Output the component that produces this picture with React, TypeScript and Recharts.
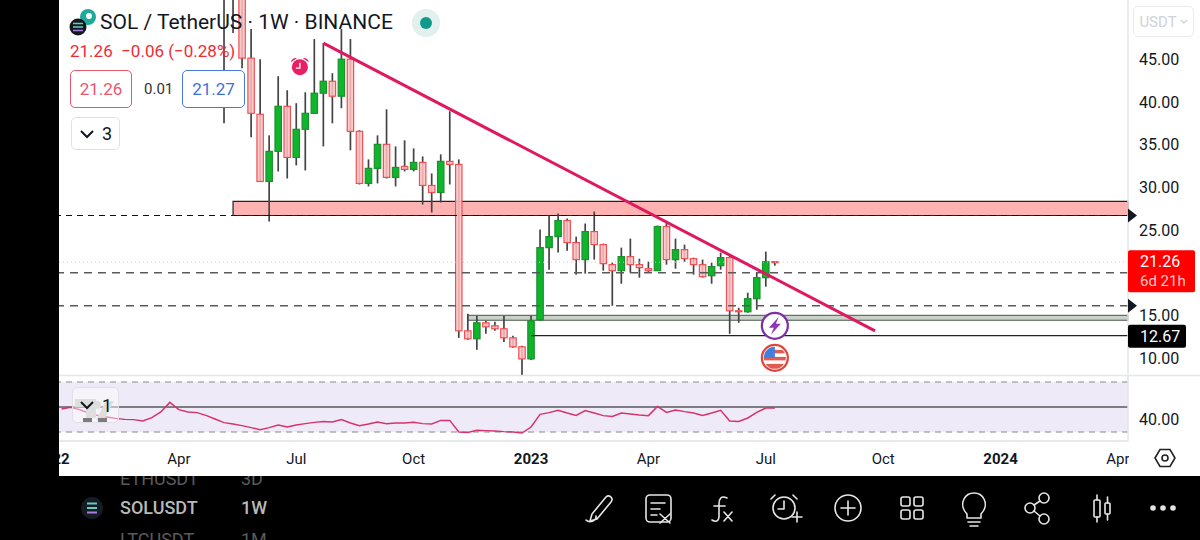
import { ComposedChart, Bar, Line, XAxis, YAxis, ReferenceLine, ReferenceArea, ReferenceDot } from 'recharts'

const FONT = 'Roboto, sans-serif'

// weekly candles, week 0 is the first one on screen
const weeks = Array.from({ length: 62 }, (_, i) => i)
const opens = [54.3, 55, 54.26, 45.12, 38.56, 30.7, 34.22, 39.49, 33.51, 36.8, 38.67, 41.02, 42.42, 40.67, 45, 36.56, 30.47, 32.23, 35.04, 31.17, 32.46, 32.11, 32.93, 30.23, 29.41, 33.05, 32.69, 13.23, 12.3, 14.17, 13.82, 13.47, 12.41, 11.36, 9.95, 14.52, 22.96, 24.25, 26.13, 23.55, 21.56, 24.84, 23.32, 20.97, 20.27, 21.91, 20.97, 20.5, 20.27, 25.43, 21.56, 22.73, 21.67, 20.97, 19.68, 20.85, 21.79, 15.58, 15.46, 16.99, 19.45, 21.32]
const highs = [56, 56, 56, 48.52, 45, 36.09, 43.01, 41.37, 39.85, 41.13, 47.35, 46.88, 43.36, 48.52, 47.35, 36.68, 33.28, 36.09, 39.14, 34.8, 35.51, 34.57, 33.63, 31.64, 33.87, 38.91, 33.28, 15.23, 14.99, 14.41, 14.29, 14.99, 12.65, 11.48, 14.99, 25.07, 26.72, 26.95, 26.36, 24.25, 25.78, 27.18, 23.43, 21.2, 22.96, 24.02, 21.67, 21.32, 25.54, 25.9, 24.02, 23.32, 21.79, 21.56, 21.2, 22.38, 22.14, 15.93, 17.69, 20.03, 22.5, 21.32]
const lows = [37.5, 48.05, 43.95, 35.86, 30.7, 26.01, 31.87, 31.05, 32.58, 31.99, 38.67, 34.8, 37.5, 39.26, 34.34, 30.35, 30.12, 30.47, 31.05, 30.12, 31.87, 31.87, 28, 27.07, 28.24, 30.35, 12.41, 12.18, 11.01, 12.88, 13.23, 11.94, 11.24, 8.08, 9.83, 14.41, 20.38, 22.38, 22.61, 19.8, 19.92, 21.56, 20.27, 16.16, 18.74, 20.03, 19.45, 20.03, 20.27, 20.97, 20.5, 21.32, 19.8, 19.45, 18.74, 20.38, 12.88, 14.17, 15.34, 15.7, 18.39, 20.85]
const closes = [53.1, 54, 45.12, 38.67, 30.7, 34.22, 39.49, 33.51, 36.8, 38.67, 41.02, 42.42, 40.67, 45, 36.56, 30.47, 32.23, 35.04, 31.17, 32.34, 32.11, 32.93, 30.23, 29.41, 33.05, 32.69, 13.23, 12.3, 14.17, 13.7, 13.47, 12.41, 11.36, 9.95, 14.41, 22.96, 24.25, 26.13, 23.55, 21.56, 24.84, 23.32, 21.09, 20.27, 21.91, 20.97, 20.62, 20.27, 25.43, 21.56, 22.73, 21.67, 20.97, 19.56, 20.74, 21.79, 15.58, 15.52, 16.99, 19.45, 21.32, 21.26]

const rsiWeeks = Array.from({ length: 80 }, (_, i) => i - 18)
const rsiValues = [48.4, 49.7, 47.9, 45.2, 43.3, 42, 40.9, 40.1, 39.9, 38.8, 41.5, 46, 53.7, 47.9, 46, 45.5, 43.3, 40.4, 37.5, 36.4, 35.1, 33.5, 31.9, 33.5, 35.6, 34, 35.6, 36.7, 37.7, 38.3, 38, 39.9, 37.2, 35.1, 36.4, 38, 36.7, 37.2, 37.2, 37.7, 36.7, 36.4, 39.3, 39.3, 30, 29.7, 31.3, 31.1, 30.8, 30.3, 30, 29.2, 34, 44.1, 45.5, 47.3, 45.2, 43.3, 47.1, 45.2, 43.1, 42.5, 45.2, 44.4, 43.6, 43.1, 50.5, 45.7, 47.6, 46.3, 45.2, 43.3, 45.2, 47.3, 38.8, 38.5, 41.2, 45.7, 49.2, 49.2]

const tickWeeks = [-19, -5, 8, 21, 34, 47, 60, 73, 86, 99]
const tickLabels = ['2022', 'Apr', 'Jul', 'Oct', '2023', 'Apr', 'Jul', 'Oct', '2024', 'Apr']
const priceTicks = [10, 15, 25, 30, 35, 40, 45]
const rsiTicks = [40]

const candles = weeks.map((week, i) => ({ week, open: opens[i], high: highs[i], low: lows[i], close: closes[i] }))
const rsiData = rsiWeeks.map((week, i) => ({ week, rsi: rsiValues[i] }))

const xDomain: [number, number] = [-24.81, 100.11]
const lastPrice = 21.26

function Candle(props: any) {
  const { x, y, width, height, payload } = props
  const { open, high, low, close } = payload
  const k = height / (high - low)
  const cx = x + width / 2
  const up = close >= open
  const top = y + (high - Math.max(open, close)) * k
  const h = Math.max(Math.abs(open - close) * k, 1)
  return (
    <g>
      <line x1={cx} x2={cx} y1={y} y2={y + height} stroke="#444" strokeWidth={1.7} />
      <rect
        x={cx - 3.2}
        y={top}
        width={6.4}
        height={h}
        fill={up ? '#0fb52b' : '#ffc1c1'}
        fillOpacity={up ? 1 : 0.85}
        stroke={up ? '#1c8f2e' : '#ef4f55'}
        strokeWidth={1.2}
      />
    </g>
  )
}

function TimeTick(props: any) {
  const { x, y, index } = props
  const label = tickLabels[index]
  const bold = label.length === 4
  return (
    <text x={x} y={y + 15} textAnchor="middle" fontFamily={FONT} fontSize={15} fontWeight={bold ? 700 : 400} fill="#131722">
      {label}
    </text>
  )
}

const arrow = (p: any) => <polygon points={`${p.cx},${p.cy - 7} ${p.cx + 9},${p.cy} ${p.cx},${p.cy + 7}`} fill="#131722" />

const lastLabel = (p: any) => (
  <g fontFamily={FONT}>
    <rect x={p.cx} y={p.cy - 12} width={67} height={42} rx={2} fill="#ff0000" />
    <text x={p.cx + 12} y={p.cy + 5} fontSize={16} fill="#fff">21.26</text>
    <text x={p.cx + 12} y={p.cy + 24} fontSize={15} fill="#ffc4c4">6d 21h</text>
  </g>
)

const blackLabel = (p: any) => (
  <g fontFamily={FONT}>
    <rect x={p.cx} y={p.cy - 11} width={58} height={23} rx={2} fill="#000" />
    <text x={p.cx + 12} y={p.cy + 6} fontSize={16} fill="#fff">12.67</text>
  </g>
)

const alarmIcon = (p: any) => (
  <g transform={`translate(${p.cx},${p.cy})`}>
    <path d="M-9,-5 A5,5 0 0 1 -3,-9 Z M9,-5 A5,5 0 0 0 3,-9 Z" fill="#e91e63" />
    <circle r={8} fill="#e91e63" />
    <path d="M0,-4.5 V1 H-4" fill="none" stroke="#fff" strokeWidth={1.4} />
  </g>
)

const boltIcon = (p: any) => (
  <g transform={`translate(${p.cx},${p.cy})`}>
    <circle r={13} fill="#fff" stroke="#7b2fa8" strokeWidth={2.2} />
    <path d="M4,-9 L-6,2 L-1,2 L-4,9 L6,-2 L1,-2 Z" fill="#8e36b5" />
  </g>
)

const flagIcon = (p: any) => (
  <g transform={`translate(${p.cx},${p.cy})`}>
    <clipPath id="flag-clip"><circle r={11} /></clipPath>
    <circle r={13} fill="#fff" stroke="#e0453d" strokeWidth={2.2} />
    <g clipPath="url(#flag-clip)">
      <rect x={-12} y={-8} width={24} height={3.5} fill="#e25b52" />
      <rect x={-12} y={-1} width={24} height={3.5} fill="#e25b52" />
      <rect x={-12} y={6} width={24} height={6} fill="#e25b52" />
      <rect x={-12} y={-12} width={12} height={12} fill="#3f7fe0" />
    </g>
  </g>
)

function PriceChart() {
  return (
    <ComposedChart width={1200} height={376} data={candles} margin={{ top: 0, right: 0, bottom: 0, left: 0 }}>
      <XAxis dataKey="week" type="number" domain={xDomain} hide />
      <YAxis
        orientation="right"
        width={72}
        domain={[7.95, 51.92]}
        allowDataOverflow
        ticks={priceTicks}
        interval={0}
        tickFormatter={(v: number) => v.toFixed(2)}
        tick={{ fill: '#131722', fontSize: 16, fontFamily: FONT }}
        tickLine={false}
        tickMargin={5}
        axisLine={{ stroke: '#e4e6ea', strokeWidth: 1.5 }}
      />
      <ReferenceLine y={21.26} stroke="#f6b8b8" strokeDasharray="1 3" />
      <ReferenceLine y={20.03} stroke="#5a5a5a" strokeWidth={1.6} strokeDasharray="8 6" />
      <ReferenceLine y={16.16} stroke="#5a5a5a" strokeWidth={1.6} strokeDasharray="8 6" />
      <ReferenceArea x1={27} x2={100.11} y1={14.47} y2={15.05} fill="#c9d2c9" fillOpacity={1} stroke="#4a554a" strokeWidth={1} />
      <ReferenceLine segment={[{ x: 34, y: 12.67 }, { x: 100.11, y: 12.67 }]} stroke="#222" strokeWidth={1.3} />
      <ReferenceArea x1={1} x2={100.11} y1={26.72} y2={28.36} fill="#ffb2b2" fillOpacity={1} stroke="#222" strokeWidth={1.2} />
      <ReferenceLine y={26.72} stroke="#111" strokeWidth={1.2} strokeDasharray="6 5" />
      <Bar dataKey={(d: any) => [d.low, d.high]} barSize={7} shape={<Candle />} isAnimationActive={false} />
      <ReferenceLine segment={[{ x: 11, y: 46.88 }, { x: 72.09, y: 13.23 }]} stroke="#e0185f" strokeWidth={3} />
      <ReferenceDot x={8.4} y={44.07} shape={alarmIcon} />
      <ReferenceDot x={61} y={13.82} shape={boltIcon} />
      <ReferenceDot x={61} y={10.07} shape={flagIcon} />
      <ReferenceDot x={100.11} y={26.72} shape={arrow} />
      <ReferenceDot x={100.11} y={20.03} shape={arrow} />
      <ReferenceDot x={100.11} y={16.16} shape={arrow} />
      <ReferenceDot x={100.11} y={lastPrice} shape={lastLabel} />
      <ReferenceDot x={100.11} y={12.67} shape={blackLabel} />
    </ComposedChart>
  )
}

function RsiChart() {
  return (
    <ComposedChart width={1200} height={100} data={rsiData} margin={{ top: 0, right: 0, bottom: 0, left: 0 }}>
      <ReferenceArea x1={-24.81} x2={100.11} y1={30} y2={70} fill="#efeaf8" fillOpacity={1} stroke="none" />
      <XAxis
        dataKey="week"
        type="number"
        domain={xDomain}
        ticks={tickWeeks}
        interval={0}
        height={35}
        tick={<TimeTick />}
        tickLine={false}
        axisLine={{ stroke: '#e0e2e6', strokeWidth: 1.5 }}
      />
      <YAxis
        orientation="right"
        width={72}
        domain={[22.8, 74.8]}
        allowDataOverflow
        ticks={rsiTicks}
        interval={0}
        tickFormatter={(v: number) => v.toFixed(2)}
        tick={{ fill: '#131722', fontSize: 16, fontFamily: FONT }}
        tickLine={false}
        tickMargin={5}
        axisLine={{ stroke: '#e4e6ea', strokeWidth: 1.5 }}
      />
      <ReferenceLine y={70} stroke="#888" strokeDasharray="6 5" />
      <ReferenceLine y={30} stroke="#888" strokeDasharray="6 5" />
      <ReferenceLine y={50} stroke="#111" strokeWidth={1.2} />
      <Line dataKey="rsi" stroke="#d6336c" strokeWidth={1.5} dot={false} isAnimationActive={false} />
    </ComposedChart>
  )
}

const box = (left: number, top: number, width: number, height: number, color: string, bg = 'transparent'): any => ({
  position: 'absolute',
  left,
  top,
  width,
  height,
  boxSizing: 'border-box',
  border: `1.5px solid ${color}`,
  borderRadius: 5,
  background: bg,
  display: 'flex',
  alignItems: 'center',
  justifyContent: 'center',
})

const ICON = { fill: 'none', stroke: '#e6e6e6', strokeWidth: 1.6, strokeLinecap: 'round', strokeLinejoin: 'round' } as any

function Toolbar() {
  return (
    <g {...ICON}>
      <path d="M586,520 C590,524 597,520 596,516 M592,514 L606,497 C609,494 614,498 611,502 L597,519 L590,521 Z" />
      <rect x="646" y="495" width="25" height="27" rx="4" />
      <path d="M651,503 H665 M651,509 H660 M651,515 H657 M660,514 L670,523 M670,514 L660,523" />
      <path d="M727,498 C721,495 719,499 719,504 V516 C719,522 715,522 712,520 M714,506 H725 M724,512 L732,521 M732,512 L724,521" />
      <circle cx="784" cy="508" r="11" />
      <path d="M784,501 V509 H778 M775,495 L771,499 M793,495 L797,499 M792,517 H802 M797,512 V522" />
      <circle cx="848" cy="508" r="13" />
      <path d="M848,501 V515 M841,508 H855" />
      <rect x="901" y="497" width="9" height="9" rx="2" />
      <rect x="914" y="497" width="9" height="9" rx="2" />
      <rect x="901" y="510" width="9" height="9" rx="2" />
      <rect x="914" y="510" width="9" height="9" rx="2" />
      <path d="M967,514 C962,509 962,503 964,499 C968,491 980,491 984,499 C986,503 986,509 981,514 V518 H967 Z M968,522 H980 M970,526 H978" />
      <circle cx="1044" cy="498" r="5" />
      <circle cx="1030" cy="508" r="5" />
      <circle cx="1044" cy="519" r="5" />
      <path d="M1034,505 L1040,501 M1034,511 L1040,516" />
      <rect x="1094" y="500" width="6" height="17" rx="1" />
      <rect x="1105" y="503" width="5" height="11" rx="1" />
      <path d="M1097,495 V500 M1097,517 V522 M1107.5,497 V503 M1107.5,514 V520" />
      <circle cx="1153" cy="508" r="2" fill="#e6e6e6" />
      <circle cx="1163" cy="508" r="2" fill="#e6e6e6" />
      <circle cx="1173" cy="508" r="2" fill="#e6e6e6" />
    </g>
  )
}

export default function App() {
  return (
    <div style={{ position: 'absolute', left: 0, top: 0, width: 1200, height: 540, overflow: 'hidden', background: '#fff', fontFamily: FONT }}>
      <div style={{ position: 'absolute', left: 0, top: 0 }}><PriceChart /></div>
      <div style={{ position: 'absolute', left: 0, top: 376 }}><RsiChart /></div>

      <svg width={1200} height={540} style={{ position: 'absolute', left: 0, top: 0 }} fontFamily={FONT}>
        <defs>
          <clipPath id="bar-clip"><rect x={0} y={476} width={1200} height={64} /></clipPath>
        </defs>
        <line x1={59} x2={1200} y1={375.5} y2={375.5} stroke="#e4e6ea" strokeWidth={1.5} />
        <rect x={1129} y={442} width={71} height={34} fill="#fff" />
        <path d="M1155,458 L1160,449.5 H1170 L1175,458 L1170,466.5 H1160 Z" fill="none" stroke="#222" strokeWidth={1.6} />
        <circle cx={1165} cy={458} r={3} fill="none" stroke="#222" strokeWidth={1.6} />
        {/* tradingview watermark under the rsi legend */}
        <path d="M75,399 H96 V418 H86 V407 H75 Z" fill="#c4c4c4" />
        <circle cx={97} cy={405} r={4} fill="#c4c4c4" />
        <path d="M106,401 H114 L104,420 H96 Z" fill="#c4c4c4" />
        <rect x={83} y={418} width={9} height={4} fill="#111" />
        <rect x={98} y={418} width={9} height={4} fill="#111" />

        <rect x={0} y={0} width={59} height={540} fill="#000" />
        <rect x={0} y={476} width={1200} height={64} fill="#000" />

        <circle cx={88} cy={17} r={8} fill="#1fa99a" />
        <circle cx={89} cy={16} r={3} fill="#fff" />
        <circle cx={78} cy={27} r={8.5} fill="#16181f" />
        <path d="M73,23.5 H83 M73,27 H83" stroke="#5fd0c0" strokeWidth={1.5} />
        <path d="M73,30.5 H83" stroke="#a77fe0" strokeWidth={1.5} />
        <circle cx={426} cy={23} r={14} fill="#e2f0ee" />
        <circle cx={426} cy={23} r={6} fill="#119a8b" />

        <g fontSize={18} fill="#b9b9b9" fontWeight={500}>
          <text x={120} y={514}>SOLUSDT</text>
          <text x={241} y={514}>1W</text>
        </g>
        <g fontSize={18} fill="#5a5a5a" clipPath="url(#bar-clip)">
          <text x={120} y={485}>ETHUSDT</text>
          <text x={241} y={485}>3D</text>
          <text x={120} y={546}>LTCUSDT</text>
          <text x={241} y={546}>1M</text>
        </g>
        <circle cx={92} cy={508} r={11} fill="#171b24" />
        <path d="M87,503.5 H97 M87,508 H97" stroke="#5fd0c0" strokeWidth={2} />
        <path d="M87,512.5 H97" stroke="#a77fe0" strokeWidth={2} />
        <Toolbar />
      </svg>

      <div style={{ position: 'absolute', left: 100, top: 10, fontSize: 21, color: '#131722', whiteSpace: 'nowrap' }}>SOL / TetherUS · 1W · BINANCE</div>
      <div style={{ position: 'absolute', left: 70, top: 41, fontSize: 17, color: '#ef2b35', whiteSpace: 'pre' }}>21.26  −0.06 (−0.28%)</div>
      <div style={{ ...box(70, 70, 62, 38, '#e8566b'), color: '#e8566b', fontSize: 17 }}>21.26</div>
      <div style={{ position: 'absolute', left: 144, top: 80, fontSize: 15, color: '#333' }}>0.01</div>
      <div style={{ ...box(182, 70, 63, 38, '#4a78e0', '#fff'), color: '#3f6fdc', fontSize: 17 }}>21.27</div>
      <div style={{ ...box(71, 117, 49, 33, '#dfe1e5', '#fff'), gap: 7, fontSize: 18, color: '#131722' }}>
        <svg width={16} height={10}><path d="M2,2 L8,8 L14,2" fill="none" stroke="#131722" strokeWidth={2} /></svg>3
      </div>
      <div style={{ ...box(72, 387, 47, 36, '#dfe1e5', 'rgba(255,255,255,0.45)'), gap: 7, fontSize: 18, color: '#131722' }}>
        <svg width={16} height={10}><path d="M2,2 L8,8 L14,2" fill="none" stroke="#131722" strokeWidth={2} /></svg>1
      </div>
      <div style={{ ...box(1133, 6, 61, 31, '#e8eaed', '#fff'), gap: 3, fontSize: 15, color: '#cfd2d6' }}>
        USDT<svg width={8} height={6}><path d="M1,1 L4,4 L7,1" fill="none" stroke="#cfd2d6" strokeWidth={1.4} /></svg>
      </div>
    </div>
  )
}
